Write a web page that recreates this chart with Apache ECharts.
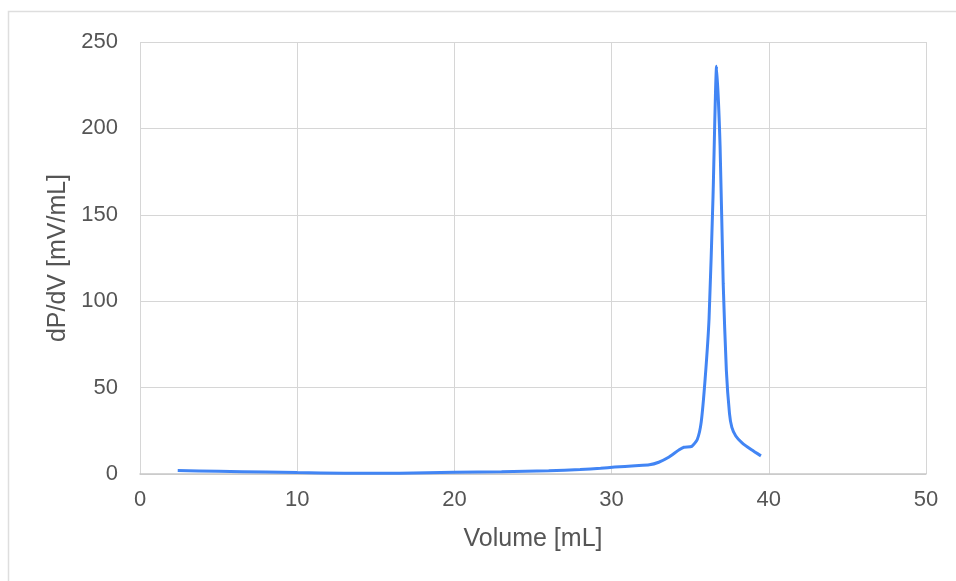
<!DOCTYPE html>
<html>
<head>
<meta charset="utf-8">
<script src="https://cdn.jsdelivr.net/npm/echarts@6/dist/echarts.min.js"></script>
<style>
  html, body { margin: 0; padding: 0; background: #fff; }
  #chart { width: 956px; height: 581px; }
</style>
</head>
<body>
<div id="chart"></div>
<script>
// volume [mL] and dP/dV [mV/mL]
const volume = [2.4, 5, 8, 10, 13, 16.5, 20, 23, 26, 28, 29.3, 30.2, 31.5, 32.4, 33.0, 33.6, 34.3, 34.6, 35.1, 35.45, 35.7, 35.95, 36.2, 36.45, 36.68, 36.9, 37.1, 37.3, 37.5, 37.65, 37.9, 38.3, 38.9, 39.5]
const signal = [2.0, 1.6, 1.1, 0.8, 0.5, 0.5, 1.0, 1.3, 1.9, 2.6, 3.3, 4.0, 4.8, 5.3, 6.8, 9.5, 14.0, 15.5, 16.0, 20, 30, 55, 90, 160, 236, 190, 110, 60, 35, 27, 22, 18, 14, 10.5]
const xTicks = [0, 10, 20, 30, 40, 50]
const yTicks = [0, 50, 100, 150, 200, 250]

const chartDom = document.getElementById('chart')
const myChart = echarts.init(chartDom)
const labelFont = { color: '#555', fontSize: 22, fontFamily: 'Liberation Sans, Arial, sans-serif' }
const gridLine = { lineStyle: { color: '#d6d6d6', width: 1 } }

const option = {
  animation: false,
  graphic: [
    {
      type: 'rect',
      shape: { x: 8.5, y: 11.5, width: 960, height: 600 },
      style: { fill: 'none', stroke: '#dedede', lineWidth: 1.5 },
      silent: true,
    },
  ],
  grid: {
    left: 140,
    right: 30,
    top: 42,
    bottom: 107,
  },
  xAxis: {
    type: 'value',
    min: xTicks[0],
    max: xTicks[xTicks.length - 1],
    interval: 10,
    name: 'Volume [mL]',
    nameLocation: 'middle',
    nameGap: 53,
    nameTextStyle: { ...labelFont, fontSize: 25 },
    axisLine: { show: true, lineStyle: { color: '#c8c8c8', width: 1.5 } },
    axisTick: { show: false },
    axisLabel: { ...labelFont, margin: 15 },
    splitLine: { show: true, ...gridLine },
  },
  yAxis: {
    type: 'value',
    min: yTicks[0],
    max: yTicks[yTicks.length - 1],
    interval: 50,
    name: 'dP/dV [mV/mL]',
    nameLocation: 'middle',
    nameGap: 65,
    nameTextStyle: { ...labelFont, fontSize: 25 },
    axisLine: { show: false },
    axisTick: { show: false },
    axisLabel: { ...labelFont, margin: 22 },
    splitLine: { show: true, ...gridLine },
  },
  series: [
    {
      type: 'line',
      data: volume.map((v, i) => [v, signal[i]]),
      showSymbol: false,
      smooth: 0.2,
      lineStyle: { color: '#4285f4', width: 3 },
      itemStyle: { color: '#4285f4' },
    },
  ],
}

option && myChart.setOption(option)
</script>
</body>
</html>
